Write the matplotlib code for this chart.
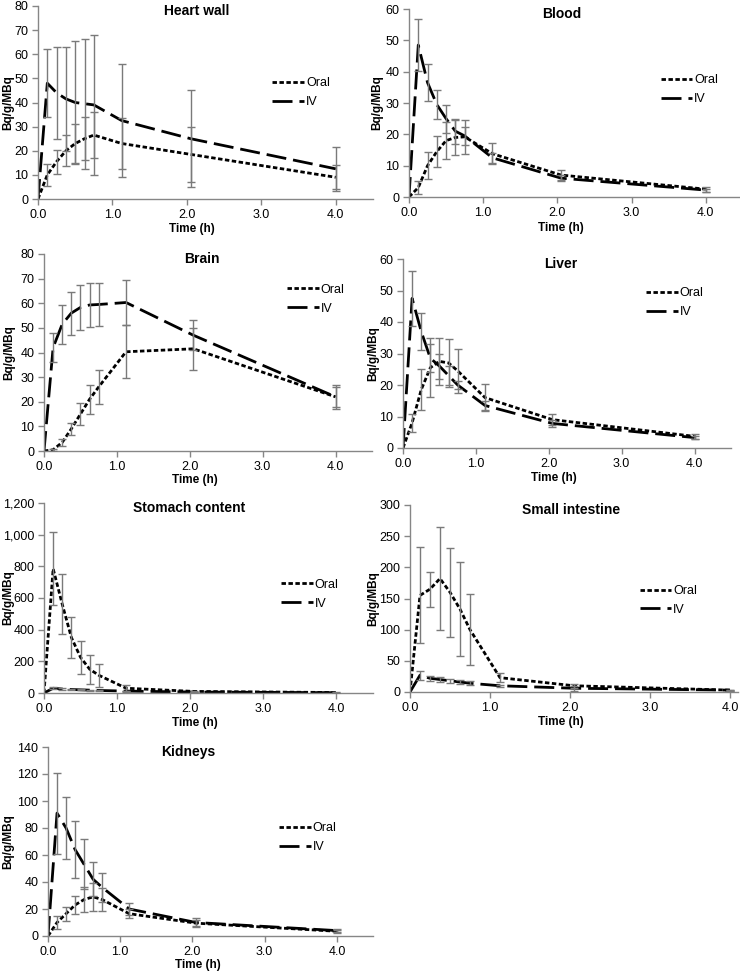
import matplotlib.pyplot as plt
from matplotlib.ticker import FuncFormatter, MultipleLocator

plt.rcParams['font.family'] = ['Liberation Sans', 'DejaVu Sans']

W, H = 740, 973
GRAY = '#868686'
ERR_GRAY = '#7a7a7a'

# sampling times (h)
time_h = [0, 0.125, 0.25, 0.375, 0.5, 0.625, 0.75, 1.125, 2.05, 4.0]

# Heart wall
heart_oral = [0, 10, 15.5, 20, 23, 25, 26.5, 23, 18.5, 9]
heart_oral_sd = [0, 4.5, 5, 6.5, 8, 9, 9.5, 10.5, 11.5, 5]
heart_iv = [0, 48, 44, 41.5, 40, 39.5, 39, 32.5, 25, 12.5]
heart_iv_sd = [0, 14, 19, 21.5, 25.5, 27, 29, 23.5, 20, 9]

# Blood
blood_oral = [0, 3, 10, 14.5, 18, 19, 19.2, 13.8, 7, 2.5]
blood_oral_sd = [0, 2, 4.4, 5, 6, 5.5, 5.5, 3.3, 1.7, 0.8]
blood_iv = [0, 48.5, 36.5, 29.5, 25, 21, 19.5, 12.5, 6, 2.2]
blood_iv_sd = [0, 8.2, 6, 4.7, 4.5, 4, 3, 1.5, 1, 0.5]

# Brain
brain_oral = [0, 0.5, 3.5, 9, 15, 21, 26, 40.3, 41.5, 22]
brain_oral_sd = [0, 0.5, 1.5, 2.5, 4.3, 6, 7, 10.8, 8.5, 4]
brain_iv = [0, 42, 51.5, 56, 58.3, 59.3, 59.5, 60.3, 47, 22]
brain_iv_sd = [0, 6, 7.9, 8.7, 9, 8.8, 8.8, 9.1, 6, 5]

# Liver
liver_oral = [0, 8, 18.5, 25.5, 27.5, 27, 24.5, 16, 9, 3.7]
liver_oral_sd = [0, 2.8, 6.5, 9.3, 7.5, 7.5, 7, 4.2, 1.7, 0.7]
liver_iv = [0, 47.5, 37, 28.5, 26, 23, 20, 13.5, 7.8, 3.3]
liver_iv_sd = [0, 8.8, 6, 4.5, 4, 3, 1.3, 1.5, 1, 0.5]

# Stomach content
stomach_oral = [0, 785, 560, 350, 225, 150, 112, 30, 10, 3]
stomach_oral_sd = [0, 232, 190, 131, 104, 90, 72, 20, 4, 2]
stomach_iv = [0, 30, 25, 22, 20, 18, 16, 12, 6, 2]
stomach_iv_sd = [0, 6, 5, 4, 4, 3, 3, 3, 2, 1]

# Small intestine
sint_oral = [0, 155, 165, 182, 160, 133, 100, 23, 10, 3]
sint_oral_sd = [0, 77, 28, 82, 71, 76, 57, 7, 3, 1]
sint_iv = [0, 27, 22, 20, 18, 16, 14, 10, 6, 3]
sint_iv_sd = [0, 7, 4, 4, 3.5, 3, 3, 2, 4, 1]

# Kidneys
kid_oral = [0, 10, 16.5, 23, 27, 29, 27, 16.5, 9.5, 3.5]
kid_oral_sd = [0, 4.5, 5.2, 6.8, 9.5, 10.5, 8.5, 3.5, 2, 1]
kid_iv = [0, 91, 80, 64, 53, 42, 36, 20, 10, 4]
kid_iv_sd = [0, 30, 23, 21, 18.5, 12.5, 10.7, 4.3, 3.5, 1]

# title, data, axes box in px (left, top, right, bottom), xmax, ymax, ystep,
# title pos (axes frac), legend pos (axes frac), ylabel x (px), xlabel offset (px)
panels = [
    ('Heart wall', heart_oral, heart_oral_sd, heart_iv, heart_iv_sd,
     (38, 6, 373, 199), 4.5, 80, 10, (0.475, 0.975), (0.70, 0.55), 8, 30),
    ('Blood', blood_oral, blood_oral_sd, blood_iv, blood_iv_sd,
     (409, 9, 740, 197), 4.46, 60, 10, (0.46, 0.975), (0.76, 0.57), 377, 31),
    ('Brain', brain_oral, brain_oral_sd, brain_iv, brain_iv_sd,
     (44, 254, 372, 451), 4.5, 80, 10, (0.48, 0.975), (0.74, 0.77), 9, 29),
    ('Liver', liver_oral, liver_oral_sd, liver_iv, liver_iv_sd,
     (403, 259, 731, 448), 4.5, 60, 10, (0.48, 0.975), (0.74, 0.77), 373, 30),
    ('Stomach content', stomach_oral, stomach_oral_sd, stomach_iv, stomach_iv_sd,
     (44, 503, 373, 693), 4.5, 1200, 200, (0.44, 0.975), (0.72, 0.52), 8, 30),
    ('Small intestine', sint_oral, sint_oral_sd, sint_iv, sint_iv_sd,
     (410, 505, 738, 692), 4.1, 300, 50, (0.49, 0.975), (0.70, 0.49), 373, 30),
    ('Kidneys', kid_oral, kid_oral_sd, kid_iv, kid_iv_sd,
     (48, 747, 373, 936), 4.5, 140, 20, (0.43, 0.975), (0.71, 0.52), 8, 29),
]

fig = plt.figure(figsize=(W / 100, H / 100), dpi=100)

for (title, oral, oral_sd, iv, iv_sd, box, xmax, ymax, ystep, tpos, lpos,
     ylab_x, xlab_off) in panels:
    l, t, r, b = box
    ax = fig.add_axes([l / W, 1 - b / H, (r - l) / W, (b - t) / H])

    ax.errorbar(time_h[1:], oral[1:], yerr=oral_sd[1:], fmt='none',
                ecolor=ERR_GRAY, elinewidth=1, capsize=3, capthick=1, zorder=3)
    ax.errorbar(time_h[1:], iv[1:], yerr=iv_sd[1:], fmt='none',
                ecolor=ERR_GRAY, elinewidth=1, capsize=3, capthick=1, zorder=3)
    ax.plot(time_h, oral, color='black', lw=2, dashes=(1.6, 0.9), label='Oral', zorder=2)
    ax.plot(time_h, iv, color='black', lw=2, dashes=(7.2, 2.5), label='IV', zorder=2)

    ax.set_xlim(0, xmax)
    ax.set_ylim(0, ymax)
    ax.xaxis.set_major_locator(MultipleLocator(1.0))
    ax.yaxis.set_major_locator(MultipleLocator(ystep))
    ax.xaxis.set_major_formatter(FuncFormatter(lambda v, p: f'{v:.1f}'))
    ax.yaxis.set_major_formatter(FuncFormatter(lambda v, p: f'{v:,.0f}'))

    for s in ['top', 'right']:
        ax.spines[s].set_visible(False)
    for s in ['left', 'bottom']:
        ax.spines[s].set_color(GRAY)
        ax.spines[s].set_linewidth(1)
    ax.tick_params(colors=GRAY, labelcolor='black', labelsize=9, length=4, width=1, pad=3)

    ax.text(tpos[0], tpos[1], title, transform=ax.transAxes, ha='center', va='center',
            fontsize=10, fontweight='bold')
    ax.set_xlabel('Time (h)', fontsize=8.5, fontweight='bold', va='center')
    ax.set_ylabel('Bq/g/MBq', fontsize=8.5, fontweight='bold', va='center')
    ax.xaxis.set_label_coords(0.46, -xlab_off / (b - t))
    ax.yaxis.set_label_coords((ylab_x - l) / (r - l), 0.5)

    ax.legend(loc='center left', bbox_to_anchor=lpos, frameon=False, fontsize=9,
              handlelength=2.55, handletextpad=0.15, labelspacing=0.55, borderpad=0,
              borderaxespad=0)

fig.savefig('out.png', dpi=100)
